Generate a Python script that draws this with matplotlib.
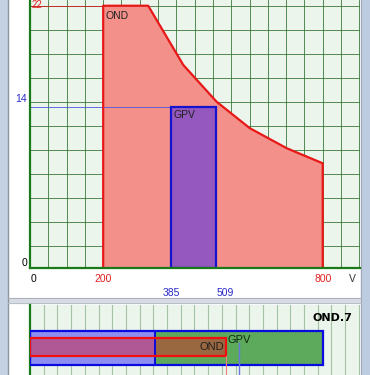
import matplotlib
matplotlib.use("Agg")
import matplotlib.pyplot as plt
from matplotlib.patches import Rectangle, Polygon
import numpy as np

plt.rcParams['font.family'] = ['Liberation Sans', 'DejaVu Sans']

# ---- data (top panel: I-V window) ----
ond_curve_v = [200, 200, 323, 419, 510, 601, 702, 800, 800]
ond_curve_i = [0, 21.88, 21.88, 16.94, 13.88, 11.67, 10.0, 8.75, 0]
gpv_vmin, gpv_vmax = 385, 509
gpv_imax = 13.47
ond_imax = 21.88
x_tick_vals = [0, 200, 800]
x_tick_labels = ["0", "200", "800"]
x_tick_colors = ["black", "#E02020", "#E02020"]
gpv_tick_vals = [385, 509]
gpv_tick_labels = ["385", "509"]
y_tick_vals = [0, 13.7]
y_tick_labels = ["0", "14"]
y_tick_colors = ["black", "#2828C8"]
ond_top_label = "22"

# ---- data (bottom panel: sizing bars) ----
gpv_bar_total = 21.4
gpv_bar_split = 9.1
ond_bar_end = 14.3
gpv_marker = 15.25
bottom_title = "OND.7"

FIG_W, FIG_H = 370, 375
fig = plt.figure(figsize=(3.7, 3.75), dpi=100)

# window chrome background
bg = fig.add_axes([0, 0, 1, 1], zorder=-10)
bg.set_xlim(0, FIG_W)
bg.set_ylim(FIG_H, 0)
bg.axis('off')
bg.add_patch(Rectangle((0, 0), FIG_W, FIG_H, color='white'))
bg.add_patch(Rectangle((0, 0), 7, FIG_H, color='#C4D1E2'))
bg.plot([7.5, 7.5], [0, FIG_H], color='#8C949C', lw=1.0)
bg.add_patch(Rectangle((361, 0), 9, FIG_H, color='#BDCCE0'))
bg.plot([360.5, 360.5], [0, FIG_H], color='#A0A8B4', lw=0.8)
bg.add_patch(Rectangle((8, 298), 353, 5, color='#D8DCE2'))
bg.plot([8, 361], [298, 298], color='#A8B0BA', lw=0.7)
bg.plot([8, 361], [303, 303], color='#B8C0C8', lw=0.7)

def px_axes(x0, y0, x1, y1, **kw):
    return fig.add_axes([x0 / FIG_W, 1 - y1 / FIG_H, (x1 - x0) / FIG_W, (y1 - y0) / FIG_H], **kw)

# ---------------- top panel ----------------
PXV = 0.3659
PXI = 12.0
ax = px_axes(30, 0, 360, 268.3)
ax.set_facecolor('#EBF5EB')
ax.set_xlim(0, 330 / PXV)
ax.set_ylim(0, 268.3 / PXI)
for v in np.arange(50, 901, 50):
    ax.axvline(v, color='#3A783A', lw=0.6, zorder=1)
for i in np.arange(1.86, 23, 2):
    ax.axhline(i, color='#3A783A', lw=0.6, zorder=1)

ax.add_patch(Polygon(list(zip(ond_curve_v, ond_curve_i)), closed=False,
                     facecolor='#F3908A', edgecolor='none', zorder=2))
ax.plot(ond_curve_v, ond_curve_i, color='#E81818', lw=1.6, zorder=4)
ax.add_patch(Rectangle((gpv_vmin, 0), gpv_vmax - gpv_vmin, gpv_imax,
                       facecolor='#9558BE', edgecolor='#1414D0', lw=1.6, zorder=5))
# reference lines
ax.plot([0, 200], [ond_imax, ond_imax], color='#D02020', lw=0.6, zorder=3)
ax.plot([0, gpv_vmin], [gpv_imax, gpv_imax], color='#4858E0', lw=0.6, zorder=3)

for s in ['top', 'right']:
    ax.spines[s].set_visible(False)
for s in ['left', 'bottom']:
    ax.spines[s].set_color('#1A7A1A')
    ax.spines[s].set_linewidth(1.6)
    ax.spines[s].set_zorder(6)
ax.set_xticks([])
ax.set_yticks([])

fs = 7.5
for v, lab, c in zip(x_tick_vals, x_tick_labels, x_tick_colors):
    ax.text(v + (10 if v == 0 else 0), -0.9, lab, color=c, fontsize=fs, ha='center', va='center', clip_on=False)
ax.text(880, -0.9, "V", color='#333333', fontsize=fs, ha='center', va='center', clip_on=False)
for v, lab in zip(gpv_tick_vals, gpv_tick_labels):
    ax.text(v + (0 if v == gpv_vmin else 25), -2.05, lab, color='#2828C8', fontsize=fs,
            ha='center', va='center', clip_on=False)
for i, lab, c in zip(y_tick_vals, y_tick_labels, y_tick_colors):
    ax.text(-8, i, lab, color=c, fontsize=fs, ha='right', va='bottom', clip_on=False)
ax.text(5.5, 268.3 / PXI - 0.02, ond_top_label, color='#E02020', fontsize=fs - 0.5,
        ha='left', va='top', clip_on=False, zorder=7)
ax.text(205, 21.45, "OND", color='#202020', fontsize=fs, ha='left', va='top', zorder=7)
ax.text(391, 13.2, "GPV", color='#202020', fontsize=fs, ha='left', va='top', zorder=7)

# ---------------- bottom panel ----------------
PXU = 13.7
bx = px_axes(30, 305, 360, 375)
bx.set_facecolor('#EBF5EB')
bx.set_xlim(0, 330 / PXU)
bx.set_ylim(70, 0)
for u in np.arange(1, 25):
    bx.axvline(u, color='#A4C2A4', lw=0.8, zorder=1)
for s in ['top', 'right', 'bottom']:
    bx.spines[s].set_visible(False)
bx.spines['left'].set_color('#1A7A1A')
bx.spines['left'].set_linewidth(1.6)
bx.set_xticks([])
bx.set_yticks([])

# GPV bar (outer)
bx.add_patch(Rectangle((0, 25.7), gpv_bar_split, 34.3, facecolor='#8E8EF0', edgecolor='none', zorder=2))
bx.add_patch(Rectangle((gpv_bar_split, 25.7), gpv_bar_total - gpv_bar_split, 34.3,
                       facecolor='#5DAA5D', edgecolor='none', zorder=2))
# OND bar overlay
bx.add_patch(Rectangle((0, 33.3), gpv_bar_split, 17.4, facecolor='#B05896', edgecolor='none', zorder=3))
bx.add_patch(Rectangle((gpv_bar_split, 33.3), ond_bar_end - gpv_bar_split, 17.4,
                       facecolor='#9A6840', edgecolor='none', zorder=3))
bx.add_patch(Rectangle((0, 25.7), gpv_bar_total, 34.3, facecolor='none', edgecolor='#0A0AE0', lw=1.6, zorder=4))
bx.plot([gpv_bar_split, gpv_bar_split], [25.7, 60], color='#0A0AE0', lw=1.4, zorder=4)
bx.add_patch(Rectangle((0, 33.3), ond_bar_end, 17.4, facecolor='none', edgecolor='#F01010', lw=1.6, zorder=5))
bx.plot([ond_bar_end, ond_bar_end], [50.7, 70], color='#F08080', lw=0.8, zorder=5)
bx.plot([gpv_marker, gpv_marker], [38, 70], color='#6878E0', lw=1.0, zorder=5)
bx.text(14.15, 42, "OND", color='#202020', fontsize=fs + 0.5, ha='right', va='center', zorder=6)
bx.text(14.45, 35, "GPV", color='#102810', fontsize=fs + 0.5, ha='left', va='center', zorder=6)
bx.text(23.5, 13, bottom_title, color='black', fontsize=8, fontweight='bold',
        family='DejaVu Sans', ha='right', va='center', zorder=6)

fig.savefig("out.png", dpi=100)
